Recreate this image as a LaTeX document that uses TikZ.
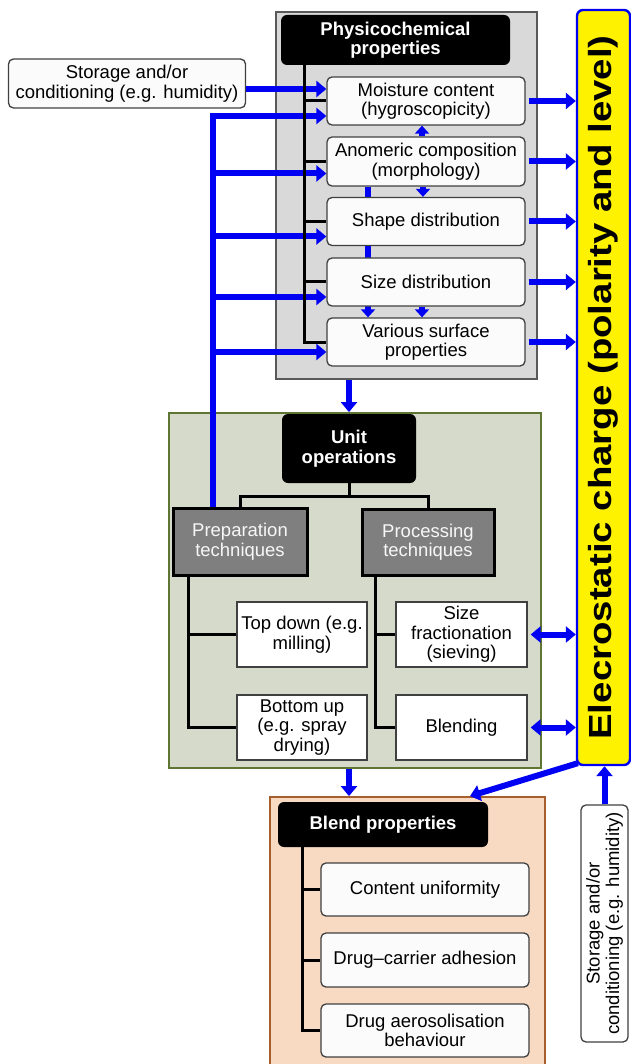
\documentclass[tikz,border=0pt]{standalone}
\usepackage{fontspec}
\setmainfont{Liberation Sans}
\usetikzlibrary{arrows.meta,calc}
\pgfdeclarelayer{back}\pgfdeclarelayer{mid}\pgfsetlayers{back,mid,main}
\definecolor{physgray}{HTML}{D9D9D9}
\definecolor{unitgreen}{HTML}{D5DACB}
\definecolor{unitedge}{HTML}{5F7532}
\definecolor{blendpeach}{HTML}{F8D9C1}
\definecolor{blendedge}{HTML}{A65E2E}
\definecolor{techgray}{HTML}{7F7F7F}
\definecolor{elblue}{HTML}{0000F2}
\newcommand\txtsize{\fontsize{18.5}{19.5}\selectfont}

\begin{document}
\begin{tikzpicture}[x=1pt,y=-1pt,every node/.style={font=\txtsize,align=center,inner sep=0pt},
  sz/.style 2 args={minimum width=#1pt,minimum height=#2pt},
  container/.style={draw=#1,line width=1.8pt},
  headbox/.style={fill=black,rounded corners=6pt,text=white,font=\txtsize\bfseries},
  item/.style={draw=black!75,fill=white!97!gray,rounded corners=5pt,line width=1.3pt},
  plainitem/.style={draw=black!75,fill=white,line width=1.3pt},
  techbox/.style={draw=black,fill=techgray,line width=3pt,text=white!94!gray},
  branch/.style={line width=3pt},
  flow/.style={draw=elblue,line width=6pt,-{Triangle[length=10pt,width=16pt]}},
  bothflow/.style={flow,{Triangle[length=10pt,width=16pt]}-{Triangle[length=10pt,width=16pt]}},
  smallflow/.style={draw=elblue,line width=5.5pt,-{Triangle[length=8pt,width=14pt]}}]
\useasboundingbox (0,0) rectangle (630,1064);

% containers
\begin{pgfonlayer}{back}
\node[container=black!65,fill=physgray,sz={261}{367}] (phys) at (406.5,195.5) {};
\node[container=unitedge,fill=unitgreen,sz={372}{355}] (unit) at (355,590.5) {};
\node[container=blendedge,fill=blendpeach,sz={275}{270}] (blend) at (407.5,932) {};
\end{pgfonlayer}

% physicochemical properties
\node[headbox,sz={229}{50}] (phead) at (395.5,40) {Physicochemical\\properties};
\node[item,sz={198}{48}] (moist) at (426,101) {Moisture content\\(hygroscopicity)};
\node[item,sz={198}{49}] (anom) at (426,161.5) {Anomeric composition\\(morphology)};
\node[item,sz={198}{48}] (shape) at (426,221.5) {Shape distribution};
\node[item,sz={198}{48}] (size) at (426,282) {Size distribution};
\node[item,sz={198}{48}] (surf) at (426,342) {Various surface\\properties};
\node[item,sz={237}{49}] (stor) at (127,83.5) {Storage and/or\\conditioning (e.g. humidity)};

% unit operations
\node[headbox,sz={134}{69}] (uhead) at (349,448.5) {Unit\\operations};
\node[techbox,sz={134}{67}] (prep) at (240,541.5) {Preparation\\techniques};
\node[techbox,sz={132}{66}] (proc) at (428,542) {Processing\\techniques};
\node[plainitem,sz={130}{65}] (topdown) at (302,634.5) {Top down (e.g.\\milling)};
\node[plainitem,sz={130}{65}] (botup) at (302,727.5) {Bottom up\\(e.g. spray\\drying)};
\node[plainitem,sz={131}{65}] (sizefrac) at (461.5,634.5) {Size\\fractionation\\(sieving)};
\node[plainitem,sz={131}{65}] (blending) at (461.5,727.5) {Blending};

% blend properties
\node[headbox,sz={210}{45}] (bhead) at (383,824.5) {Blend properties};
\node[item,sz={208}{53}] (content) at (425,889.5) {Content uniformity};
\node[item,sz={208}{54}] (adhes) at (425,960) {Drug–carrier adhesion};
\node[item,sz={208}{53}] (aero) at (425,1030.5) {Drug aerosolisation\\behaviour};

% electrostatic charge and storage
\node[draw=elblue,fill=yellow,line width=2.4pt,rounded corners=6pt,sz={53}{755}] (charge) at (603.5,387.5)
  {\rotatebox{90}{\scalebox{1.2}[1]{\fontsize{32}{34}\selectfont\bfseries Elecrostatic charge (polarity and level)}}};
\node[item,fill=white,sz={47}{237}] (stor2) at (604.5,923.5)
  {\rotatebox{90}{\parbox{232pt}{\centering\txtsize Storage and/or\\conditioning (e.g. humidity)}}};

% hidden blue link behind the distribution boxes
\begin{pgfonlayer}{mid}
\draw[smallflow] ([xshift=-58pt]anom.south) -- ([xshift=-58pt]surf.north);
\end{pgfonlayer}

% blue links
\coordinate (bus) at ([xshift=-27pt]prep.north);
\coordinate (t0) at ([yshift=12pt]moist.west);
\draw[flow] (stor.east |- t0) -- (t0);
\draw[flow] (bus) |- ([yshift=-15pt]moist.west);
\foreach \n/\s in {anom/-12,shape/-15,size/-15,surf/-10}{
  \coordinate (t) at ([yshift=\s pt]\n.west);
  \draw[flow] (bus |- t) -- (t);
}
\foreach \n in {moist,anom,shape,size,surf}
  \draw[flow] ([xshift=3pt]\n.east) -- (\n.east -| charge.west);
\draw[smallflow] ([xshift=-4pt]anom.north) -- ([xshift=-4pt]moist.south);
\draw[smallflow] ([xshift=-3pt]anom.south) -- ([xshift=-3pt]shape.north);
\draw[smallflow] ([xshift=-4pt]size.south) -- ([xshift=-4pt]surf.north);
\draw[flow] (phys.south -| uhead) -- (unit.north -| uhead);
\draw[flow] (unit.south -| uhead) -- (blend.north -| uhead);
\draw[bothflow] ([xshift=3pt]sizefrac.east) -- (sizefrac.east -| charge.west);
\draw[bothflow] ([xshift=3pt]blending.east) -- (blending.east -| charge.west);
\draw[flow] ([shift={(2,-3)}]charge.south west) -- ($(blend.north)+(62.5,0)$);
\draw[flow] (stor2.north) -- (stor2.north |- charge.south);

% black tree lines
\draw[branch] ([xshift=-91.5pt]phead.south) |- (surf.west);
\foreach \n in {moist,anom,shape,size} \draw[branch] (\n.west) -- ++(-23,0);
\draw[branch] (uhead.south) -- ++(0,13) coordinate (uj);
\draw[branch] (prep.north) |- (uj) -| (proc.north);
\draw[branch] ([xshift=-52pt]prep.south) |- (botup.west); \draw[branch] (topdown.west) -- ++(-49,0);
\draw[branch] ([xshift=-53pt]proc.south) |- (blending.west); \draw[branch] (sizefrac.west) -- ++(-21,0);
\draw[branch] ([xshift=-81pt]bhead.south) |- (aero.west);
\foreach \n in {content,adhes} \draw[branch] (\n.west) -- ++(-19,0);
\end{tikzpicture}
\end{document}
